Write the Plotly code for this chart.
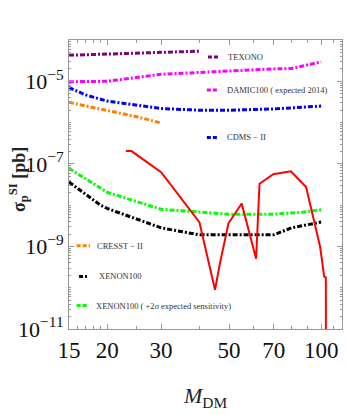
import numpy as np
import plotly.graph_objects as go

# data (x: M_DM, y: sigma in pb)
texono_x = [15, 20, 30, 40]
texono_y = [10**-4.37, 10**-4.34, 10**-4.30, 10**-4.27]

damic_x = [15, 20, 30, 40, 50, 70, 80, 100]
damic_y = [10**-5.01, 10**-5.00, 10**-4.83, 10**-4.78, 10**-4.75, 10**-4.70, 10**-4.69, 10**-4.53]

cdms_x = [15, 17, 20, 25, 30, 40, 50, 70, 80, 100]
cdms_y = [10**-5.15, 10**-5.33, 10**-5.48, 10**-5.58, 10**-5.66, 10**-5.70, 10**-5.70, 10**-5.67, 10**-5.64, 10**-5.60]

cresst_x = [15, 20, 25, 30]
cresst_y = [10**-5.51, 10**-5.70, 10**-5.86, 10**-6.01]

xenon_x = [15, 19, 20, 30, 40, 50, 70, 80, 100]
xenon_y = [10**-7.44, 10**-8.00, 10**-8.08, 10**-8.55, 10**-8.72, 10**-8.72, 10**-8.72, 10**-8.55, 10**-8.41]

xenon2_x = [15, 19, 20, 30, 37, 50, 70, 87, 100]
xenon2_y = [10**-7.11, 10**-7.60, 10**-7.69, 10**-8.10, 10**-8.15, 10**-8.22, 10**-8.22, 10**-8.17, 10**-8.11]

red_x = [23, 24, 30, 40, 45, 46.7, 49.8, 55, 61.3, 62.9, 69.8, 79.6, 89.3, 99.2, 102.3, 103.6, 103.7]
red_y = [10**-6.69, 10**-6.69, 10**-7.20, 10**-8.41, 10**-10.05, 10**-9.41, 10**-8.44, 10**-7.96,
         10**-9.30, 10**-7.48, 10**-7.25, 10**-7.18, 10**-7.56, 10**-9.0, 10**-9.73, 10**-9.75, 10**-12]

x_ticks = [15, 20, 30, 50, 70, 100]
x_minor = [16, 17, 18, 19, 25, 40, 60, 80, 90, 110]
y_ticks = [1e-11, 1e-9, 1e-7, 1e-5]
y_ticktext = ["10<sup>−11</sup>", "10<sup>−9</sup>", "10<sup>−7</sup>", "10<sup>−5</sup>"]

# legend entries: (name, color, line x0, x1, y, text x) in paper coords
legend_items = [
    ("TEXONO", "#800080", 0.509, 0.549, 0.941, 0.574),
    ("DAMIC100 ( expected 2014)", "#ff00ff", 0.505, 0.545, 0.827, 0.571),
    ("CDMS − II", "#0000ff", 0.505, 0.545, 0.663, 0.571),
    ("CRESST − II", "#ff8000", 0.028, 0.077, 0.288, 0.095),
    ("XENON100", "#000000", 0.037, 0.066, 0.182, 0.104),
    ("XENON100 ( +2<i>σ</i> expected sensitivity)", "#00ff00", 0.028, 0.066, 0.081, 0.093),
]

dd = "5px,2px,2px,2px"
serif = "Liberation Serif"

fig = go.Figure()
series = [
    (texono_x, texono_y, "#800080"),
    (damic_x, damic_y, "#ff00ff"),
    (cdms_x, cdms_y, "#0000ff"),
    (cresst_x, cresst_y, "#ff8000"),
    (xenon_x, xenon_y, "#000000"),
    (xenon2_x, xenon2_y, "#00ff00"),
]
for xs, ys, col in series:
    fig.add_trace(go.Scatter(x=xs, y=ys, mode="lines",
                             line=dict(color=col, width=3, dash=dd)))

fig.add_trace(go.Scatter(x=red_x, y=red_y, mode="lines",
                         line=dict(color="#ff0000", width=2)))

for name, col, x0, x1, yy, tx in legend_items:
    fig.add_shape(type="line", xref="paper", yref="paper", x0=x0, x1=x1, y0=yy, y1=yy,
                  line=dict(color=col, width=3, dash="4px,2px"))
    fig.add_annotation(x=tx, y=yy, xref="paper", yref="paper", text=name, showarrow=False,
                       xanchor="left", yanchor="middle", font=dict(family=serif, size=8.5, color="#333"))

# y minor ticks at 1..9 x 10^n
y_minor = []
for e in range(-11, -4):
    for m in range(1, 10):
        v = m * 10.0**e
        if v not in y_ticks:
            y_minor.append(v)

fig.add_annotation(x=(18 - 69) / 273, y=(329 - 180) / 289, xref="paper", yref="paper",
                   xanchor="center", yanchor="middle",
                   text="<b>σ<sub>p</sub><sup>SI</sup> [pb]</b>",
                   showarrow=False, textangle=-90, font=dict(family=serif, size=18, color="#222"))

fig.add_annotation(x=(205 - 69) / 273, y=(329 - 397) / 289, xref="paper", yref="paper",
                   xanchor="center", yanchor="middle",
                   text="<i>M</i><sub>DM</sub>", showarrow=False,
                   font=dict(family=serif, size=22, color="#222"))

fig.update_xaxes(type="log", range=[np.log10(15), np.log10(117)],
                 tickvals=x_ticks, ticktext=[str(v) for v in x_ticks],
                 ticks="inside", ticklen=5, tickcolor="#999", mirror="ticks",
                 showline=True, linecolor="#999", linewidth=1, showgrid=False, zeroline=False,
                 tickfont=dict(family=serif, size=23, color="#111"),
                 minor=dict(tickvals=x_minor, ticks="inside", ticklen=3, tickcolor="#999", showgrid=False))
fig.update_yaxes(type="log", range=[-11, -4],
                 tickvals=y_ticks, ticktext=y_ticktext,
                 ticks="inside", ticklen=5, tickcolor="#999", mirror="ticks",
                 showline=True, linecolor="#999", linewidth=1, showgrid=False, zeroline=False,
                 tickfont=dict(family=serif, size=22, color="#111"),
                 minor=dict(tickvals=y_minor, ticks="inside", ticklen=2, tickcolor="#999", showgrid=False))

fig.update_layout(width=346, height=415, showlegend=False,
                  margin=dict(l=69, r=4, t=40, b=86),
                  plot_bgcolor="white", paper_bgcolor="white")

fig.write_html("out.html", config={"displayModeBar": False},
               post_script="document.body.style.margin='0';document.body.style.overflow='hidden';")
